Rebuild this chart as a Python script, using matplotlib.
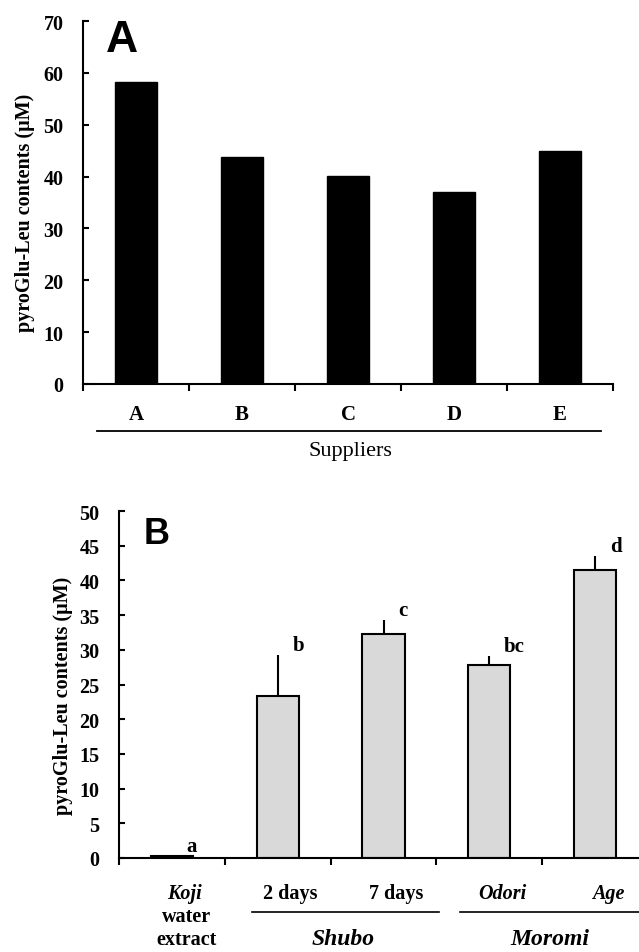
import numpy as np
import matplotlib
matplotlib.use("Agg")
import matplotlib.pyplot as plt
from matplotlib import transforms
from matplotlib.lines import Line2D

# panel A: pyroGlu-Leu in koji from 5 suppliers
suppliers = ["A", "B", "C", "D", "E"]
supplier_vals = [58.3, 43.8, 40.1, 37.0, 44.9]

# panel B: sake brewing stages
stage_labels = ["Koji", "2 days", "7 days", "Odori", "Age"]
stage_italic = [True, False, False, True, True]
stage_vals = [0.25, 23.3, 32.3, 27.8, 41.5]
stage_err = [0.0, 6.0, 2.0, 1.3, 2.0]
stage_letters = ["a", "b", "c", "bc", "d"]
groups = ["Shubo", "Moromi"]

W, H = 639, 953
SERIF = "Liberation Serif"
SANS = "Liberation Sans"

fig = plt.figure(figsize=(W / 100, H / 100), dpi=100)


def fy(py):
    # pixel row (from top) -> figure fraction
    return 1 - py / H


def fx(px):
    return px / W


def style_axes(ax, ymax, ystep, lw=1.5):
    for s in ["top", "right"]:
        ax.spines[s].set_visible(False)
    for s in ["left", "bottom"]:
        ax.spines[s].set_linewidth(lw)
    ax.set_xlim(0, 5)
    ax.set_ylim(0, ymax)
    ax.set_xticks(np.arange(6))
    ax.set_xticklabels([])
    ax.set_yticks(np.arange(0, ymax + 1, ystep))
    ax.tick_params(axis="x", direction="out", length=5, width=lw)
    ax.tick_params(axis="y", direction="in", length=4, width=lw, pad=14)
    for lab in ax.get_yticklabels():
        lab.set_fontfamily(SERIF)
        lab.set_fontweight("bold")
        lab.set_fontsize(14.5)


# ---------------- panel A ----------------
axA = fig.add_axes([fx(83), fy(385), fx(613) - fx(83), fy(22) - fy(385)])
xA = np.arange(len(suppliers)) + 0.5
axA.bar(xA, supplier_vals, width=0.4, color="black", edgecolor="black")
style_axes(axA, 70, 10)

trA = transforms.blended_transform_factory(axA.transData, fig.transFigure)
for x, s in zip(xA, suppliers):
    fig.text(x, fy(415), s, transform=trA, ha="center", va="center",
             fontfamily=SERIF, fontweight="bold", fontsize=15)
fig.add_artist(Line2D([0.13, 4.89], [fy(432), fy(432)], transform=trA,
                      color="black", lw=1.3))
fig.text(fx(350), fy(452), "Suppliers", ha="center", va="center",
         fontfamily=SERIF, fontsize=16)
fig.text(fx(25), fy(213), "pyroGlu-Leu contents (\u03bcM)", rotation=90,
         ha="center", va="center", fontfamily=SERIF, fontweight="bold",
         fontsize=14.5)
fig.text(fx(122), fy(40), "A", ha="center", va="center",
         fontfamily=SANS, fontweight="bold", fontsize=32)

# ---------------- panel B ----------------
axB = fig.add_axes([fx(119), fy(859), fx(648) - fx(119), fy(512) - fy(859)])
xB = np.arange(len(stage_labels)) + 0.5
axB.bar(xB, stage_vals, width=0.4, color="#d9d9d9", edgecolor="black",
        linewidth=1.5)
axB.errorbar(xB, stage_vals, yerr=[np.zeros(len(stage_err)), stage_err],
             fmt="none", ecolor="black", elinewidth=1.5, capsize=0)
style_axes(axB, 50, 5)

for x, v, e, let in zip(xB, stage_vals, stage_err, stage_letters):
    axB.text(x + 0.14, v + e + 0.7, let, ha="left", va="baseline",
             fontfamily=SERIF, fontweight="bold", fontsize=15)

trB = transforms.blended_transform_factory(axB.transData, fig.transFigure)
for x, s, it in zip(xB, stage_labels, stage_italic):
    fig.text(x + 0.12, fy(894), s, transform=trB, ha="center", va="center",
             fontfamily=SERIF, fontweight="bold",
             fontstyle="italic" if it else "normal", fontsize=14.5)
fig.text(xB[0] + 0.14, fy(917), "water", transform=trB, ha="center",
         va="center", fontfamily=SERIF, fontweight="bold", fontsize=14.5)
fig.text(xB[0] + 0.14, fy(940), "extract", transform=trB, ha="center",
         va="center", fontfamily=SERIF, fontweight="bold", fontsize=14.5)

# group brackets under stages
group_spans = [(1.26, 3.02), (3.22, 5.3)]
group_centers = [2.12, 4.07]
for (x0, x1), xc, g in zip(group_spans, group_centers, groups):
    fig.add_artist(Line2D([x0, x1], [fy(913), fy(913)], transform=trB,
                          color="black", lw=1.2))
    fig.text(xc, fy(940), g, transform=trB, ha="center", va="center",
             fontfamily=SERIF, fontweight="bold", fontstyle="italic",
             fontsize=17)

fig.text(fx(63), fy(696), "pyroGlu-Leu contents (\u03bcM)", rotation=90,
         ha="center", va="center", fontfamily=SERIF, fontweight="bold",
         fontsize=14.5)
fig.text(fx(157), fy(535), "B", ha="center", va="center",
         fontfamily=SANS, fontweight="bold", fontsize=26)

fig.savefig("out.png", dpi=100)
